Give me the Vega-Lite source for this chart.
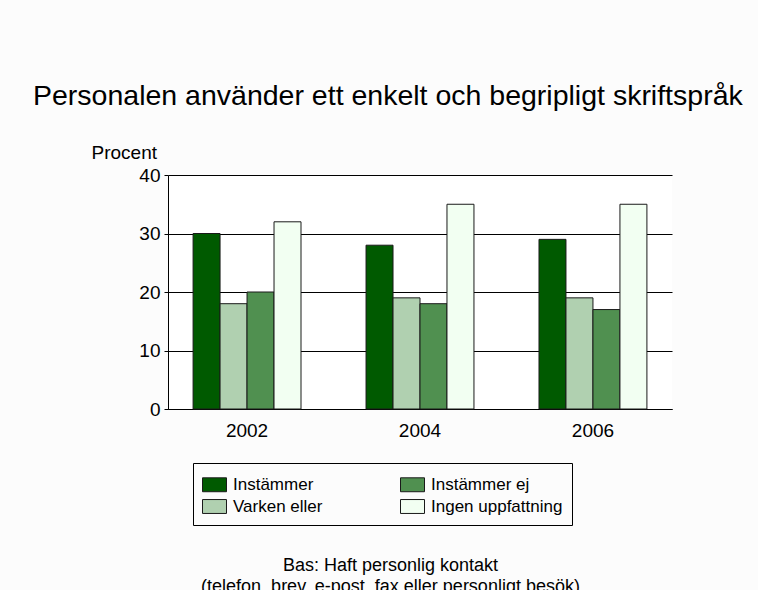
{
  "$schema": "https://vega.github.io/schema/vega-lite/v6.json",
  "width": 504,
  "height": 234,
  "autosize": {"type": "none"},
  "padding": {"left": 168, "top": 175, "right": 86, "bottom": 181},
  "background": "#fcfcfc",
  "title": {
    "text": "Personalen använder ett enkelt och begripligt skriftspråk",
    "anchor": "start",
    "frame": "group",
    "dx": -135,
    "offset": 10,
    "fontSize": 28.5,
    "font": "Liberation Sans",
    "fontWeight": "normal",
    "color": "black",
    "baseline": "alphabetic"
  },
  "data": {
    "values": [
      {"year": "2002", "svar": "Instämmer", "procent": 30},
      {"year": "2002", "svar": "Varken eller", "procent": 18},
      {"year": "2002", "svar": "Instämmer ej", "procent": 20},
      {"year": "2002", "svar": "Ingen uppfattning", "procent": 32},
      {"year": "2004", "svar": "Instämmer", "procent": 28},
      {"year": "2004", "svar": "Varken eller", "procent": 19},
      {"year": "2004", "svar": "Instämmer ej", "procent": 18},
      {"year": "2004", "svar": "Ingen uppfattning", "procent": 35},
      {"year": "2006", "svar": "Instämmer", "procent": 29},
      {"year": "2006", "svar": "Varken eller", "procent": 19},
      {"year": "2006", "svar": "Instämmer ej", "procent": 17},
      {"year": "2006", "svar": "Ingen uppfattning", "procent": 35}
    ]
  },
  "mark": {"type": "bar", "stroke": "#1a1a1a", "strokeWidth": 1},
  "encoding": {
    "x": {
      "field": "year",
      "type": "nominal",
      "scale": {"paddingInner": 0.376, "paddingOuter": 0.145},
      "axis": {
        "labelAngle": 0,
        "ticks": false,
        "labelPadding": 12,
        "domainColor": "black",
        "title": ["Bas: Haft personlig kontakt", "(telefon, brev, e-post, fax eller personligt besök)"],
        "titleX": 222,
        "titleY": 147,
        "titleAlign": "center",
        "titleBaseline": "top",
        "titleFontSize": 18,
        "titleLineHeight": 21
      }
    },
    "xOffset": {
      "field": "svar",
      "sort": ["Instämmer", "Varken eller", "Instämmer ej", "Ingen uppfattning"]
    },
    "y": {
      "field": "procent",
      "type": "quantitative",
      "scale": {"domain": [0, 40]},
      "axis": {
        "values": [0, 10, 20, 30, 40],
        "tickSize": 4,
        "labelPadding": 4,
        "grid": true,
        "gridColor": "black",
        "domainColor": "black",
        "tickColor": "black",
        "title": "Procent",
        "titleAngle": 0,
        "titleX": -77,
        "titleY": -17,
        "titleAlign": "left",
        "titleBaseline": "alphabetic",
        "titleFontSize": 19
      }
    },
    "color": {
      "field": "svar",
      "type": "nominal",
      "scale": {
        "domain": ["Instämmer", "Varken eller", "Instämmer ej", "Ingen uppfattning"],
        "range": ["#005a00", "#b0d0b0", "#509050", "#f2fff2"]
      },
      "legend": {
        "title": null,
        "orient": "none",
        "legendX": 25,
        "legendY": 288,
        "columns": 2,
        "columnPadding": 75,
        "rowPadding": 0,
        "padding": 9,
        "strokeColor": "black",
        "symbolType": "M-1,-0.58H1V0.58H-1Z",
        "symbolSize": 576,
        "symbolStrokeColor": "#1a1a1a",
        "symbolStrokeWidth": 1,
        "symbolOpacity": 1,
        "labelFontSize": 17,
        "labelOffset": 6,
        "labelLimit": 200
      }
    }
  },
  "config": {
    "font": "Liberation Sans",
    "view": {"stroke": null, "fill": "white"},
    "axis": {
      "labelFontSize": 19,
      "labelColor": "black",
      "titleColor": "black",
      "titleFontWeight": "normal",
      "labelFont": "Liberation Sans",
      "titleFont": "Liberation Sans"
    },
    "legend": {"labelColor": "black", "labelFont": "Liberation Sans"}
  }
}
